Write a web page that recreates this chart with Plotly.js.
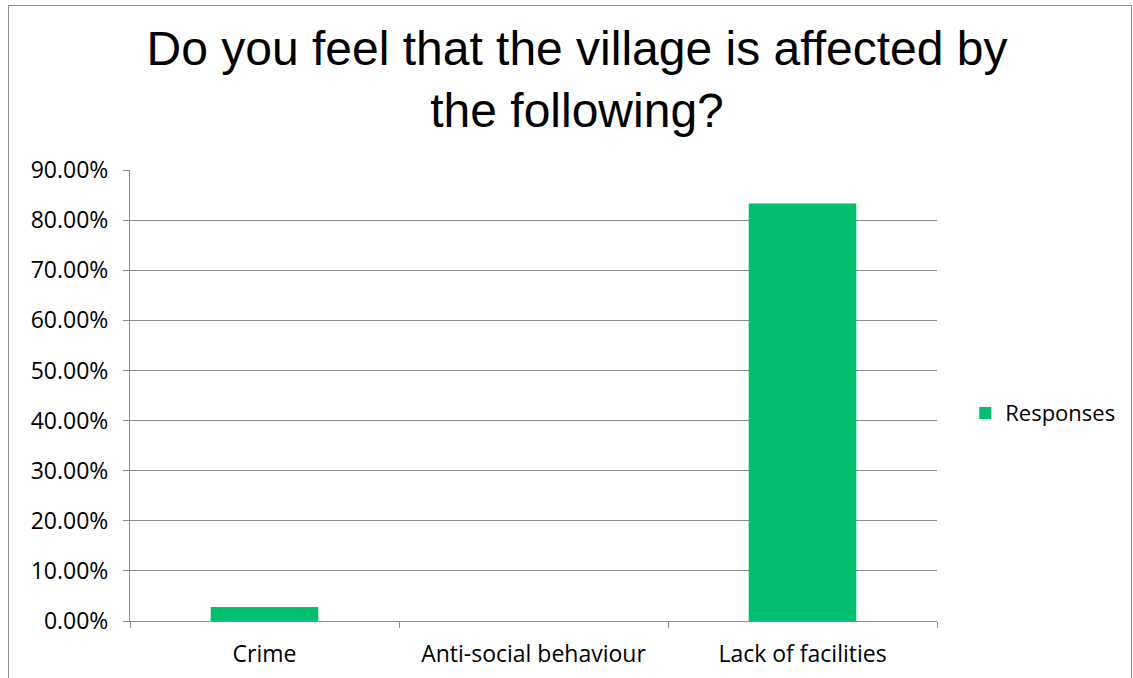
<!DOCTYPE html>
<html>
<head>
<meta charset="utf-8">
<script src="https://cdn.plot.ly/plotly-3.0.1.min.js"></script>
<style>
html,body{margin:0;padding:0;background:#fff;}
#frame{position:absolute;left:8px;top:5px;width:1122px;height:680px;border-left:1px solid #8c8c8c;border-top:1px solid #8c8c8c;border-right:1px solid #8c8c8c;}
#chart{position:absolute;left:0;top:0;width:1133px;height:678px;}
</style>
</head>
<body>
<div id="frame"></div>
<div id="chart"></div>
<script>
var categories = ["Crime", "Anti-social behaviour", "Lack of facilities"];
var responses = [0.0278, 0, 0.8333];
var seriesName = "Responses";
var yTickValues = [0, 0.1, 0.2, 0.3, 0.4, 0.5, 0.6, 0.7, 0.8, 0.9];
var yTickLabels = ["0.00%", "10.00%", "20.00%", "30.00%", "40.00%", "50.00%", "60.00%", "70.00%", "80.00%", "90.00%"];

var tickFont = {family: "Open Sans, Lato, sans-serif", size: 23, color: "#000"};

Plotly.newPlot("chart", [{
  type: "bar",
  x: categories,
  y: responses,
  name: seriesName,
  marker: {color: "#00BF6F"},
  showlegend: true
}], {
  width: 1133,
  height: 678,
  paper_bgcolor: "rgba(0,0,0,0)",
  plot_bgcolor: "#fff",
  margin: {l: 130, r: 196, t: 170, b: 57},
  bargap: 0.6,
  title: {
    text: "Do you feel that the village is affected by<br>the following?",
    font: {family: "Liberation Sans, Arial, sans-serif", size: 48, color: "#000"},
    x: 577/1133, xanchor: "center",
    y: 1 - 65/678, yanchor: "middle"
  },
  xaxis: {
    type: "category",
    showgrid: false,
    showline: true, linecolor: "#8c8c8c", linewidth: 1,
    ticks: "outside", tickson: "boundaries", ticklen: 6, tickcolor: "#8c8c8c",
    ticklabelstandoff: 12,
    tickfont: tickFont,
    fixedrange: true
  },
  yaxis: {
    range: [0, 0.9],
    tickvals: yTickValues,
    ticktext: yTickLabels,
    showgrid: true, gridcolor: "#8c8c8c", gridwidth: 1,
    showline: true, linecolor: "#8c8c8c", linewidth: 1,
    ticks: "outside", ticklen: 6, tickcolor: "#8c8c8c",
    ticklabelstandoff: 10,
    tickfont: tickFont,
    zeroline: false,
    fixedrange: true
  },
  legend: {
    x: 1.035, xanchor: "left",
    y: 0.461, yanchor: "middle",
    font: {family: "Open Sans, Lato, sans-serif", size: 22, color: "#000"},
    itemwidth: 30,
    bgcolor: "rgba(0,0,0,0)"
  }
}, {displayModeBar: false, staticPlot: true});
</script>
</body>
</html>
